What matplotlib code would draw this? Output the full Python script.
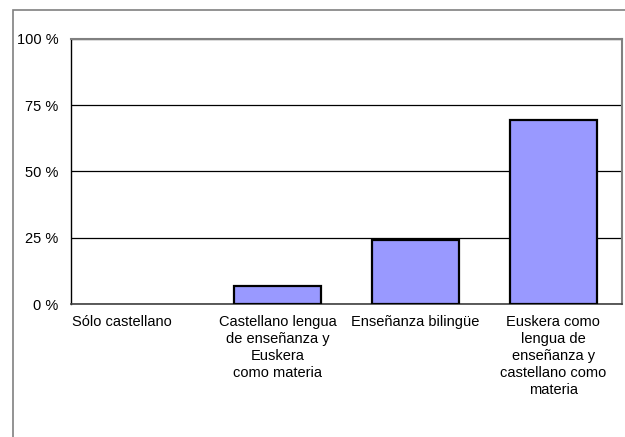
import matplotlib
matplotlib.use("Agg")
import matplotlib.pyplot as plt
import matplotlib.transforms as mtransforms
from matplotlib.patches import Rectangle

plt.rcParams['font.family'] = ['Liberation Sans', 'DejaVu Sans']

# datos
categorias = ['Sólo castellano',
              'Castellano lengua\nde enseñanza y\nEuskera\ncomo materia',
              'Enseñanza bilingüe',
              'Euskera como\nlengua de\nenseñanza y\ncastellano como\nmateria']
valores = [0, 6.8, 24.2, 69.4]
ticks_y = [0, 25, 50, 75, 100]
etiquetas_y = ['0 %', '25 %', '50 %', '75 %', '100 %']

fig = plt.figure(figsize=(6.25, 4.37), dpi=100)
ax = fig.add_axes([71/625, (437-304)/437, 551/625, 265/437])

# marco exterior
fig.patches.append(Rectangle((13/625, -0.1), 1.2, (437-9.5)/437 + 0.1,
                             transform=fig.transFigure, fill=False,
                             edgecolor='#808080', linewidth=1.2))

x = range(len(categorias))
bordes = ['black' if v > 0 else 'none' for v in valores]
ax.bar(x, valores, width=0.63, color='#9999FF', edgecolor=bordes,
       linewidth=1.6, zorder=3)

ax.set_xlim(-0.5, 3.5)
ax.set_ylim(0, 100)
ax.set_yticks(ticks_y)
ax.set_yticklabels(etiquetas_y, fontsize=10.5)
ax.set_xticks(list(x))
ax.set_xticklabels(categorias, fontsize=10.5, linespacing=1.26, va='top')
ax.tick_params(axis='both', length=0)
ax.tick_params(axis='y', pad=9)
ax.tick_params(axis='x', pad=8)

ax.yaxis.grid(True, color='black', linewidth=0.9)
ax.set_axisbelow(True)

for s in ['top', 'right']:
    ax.spines[s].set_color('#808080')
    ax.spines[s].set_linewidth(1.5)
ax.spines['left'].set_color('black')
ax.spines['bottom'].set_color('#404040')
ax.spines['left'].set_linewidth(1.0)
ax.spines['bottom'].set_linewidth(1.2)

# desplazar la primera etiqueta a la izquierda
lbl = ax.get_xticklabels()[0]
lbl.set_transform(lbl.get_transform() +
                  mtransforms.ScaledTranslation(-18/100, 0, fig.dpi_scale_trans))

fig.savefig('out.png', dpi=100)
